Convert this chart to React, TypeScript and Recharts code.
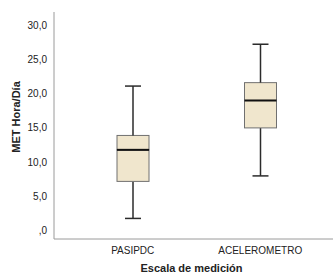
import { ComposedChart, Bar, XAxis, YAxis, Label } from "recharts";

const categories = ["PASIPDC", "ACELEROMETRO"];
const minValues = [1.8, 8.0];
const q1Values = [7.2, 15.0];
const medianValues = [11.8, 19.0];
const q3Values = [13.9, 21.6];
const maxValues = [21.1, 27.2];
const yTicks = [0, 5, 10, 15, 20, 25, 30];

const data = categories.map((name, i) => ({
  name,
  base: minValues[i],
  lowWhisker: q1Values[i] - minValues[i],
  boxLow: medianValues[i] - q1Values[i],
  boxHigh: q3Values[i] - medianValues[i],
  highWhisker: maxValues[i] - q3Values[i],
}));

const BOX_FILL = "#f0e6cd";
const BOX_STROKE = "#707070";
const WHISKER = "#2b2b2b";

const LowWhisker = (props: any) => {
  const { x, y, width, height } = props;
  const cx = x + width / 2;
  return (
    <g>
      <line x1={cx} x2={cx} y1={y} y2={y + height} stroke={WHISKER} strokeWidth={1.5} />
      <line x1={cx - 8} x2={cx + 8} y1={y + height} y2={y + height} stroke={WHISKER} strokeWidth={1.5} />
    </g>
  );
};

const HighWhisker = (props: any) => {
  const { x, y, width, height } = props;
  const cx = x + width / 2;
  return (
    <g>
      <line x1={cx} x2={cx} y1={y} y2={y + height} stroke={WHISKER} strokeWidth={1.5} />
      <line x1={cx - 8} x2={cx + 8} y1={y} y2={y} stroke={WHISKER} strokeWidth={1.5} />
    </g>
  );
};

const BoxPart = (props: any) => {
  const { x, y, width, height } = props;
  return <rect x={x} y={y} width={width} height={height} fill={BOX_FILL} stroke={BOX_STROKE} strokeWidth={1} />;
};

const BoxUpper = (props: any) => {
  const { x, y, width, height } = props;
  return (
    <g>
      <rect x={x} y={y} width={width} height={height} fill={BOX_FILL} stroke={BOX_STROKE} strokeWidth={1} />
      <line x1={x} x2={x + width} y1={y + height} y2={y + height} stroke="#111" strokeWidth={2} />
    </g>
  );
};

const fmt = (v: number) => (v === 0 ? ",0" : v.toFixed(1).replace(".", ","));

export default function App() {
  return (
    <div style={{ position: "absolute", left: 0, top: 0, background: "#fff", fontFamily: "Liberation Sans, Arial, sans-serif" }}>
      <ComposedChart width={334} height={277} data={data} margin={{ top: 12, right: 1, bottom: 8, left: 0 }} barCategoryGap={0}>
        <XAxis
          dataKey="name"
          height={30}
          tickLine={false}
          axisLine={{ stroke: "#9a9a9a" }}
          padding={{ left: 15, right: 9 }}
          tick={{ fill: "#222", fontSize: 10 }}
          interval={0}
        >
          <Label
            content={({ viewBox }: any) => (
              <text x={viewBox.x + viewBox.width / 2 - 2} y={viewBox.y + 33} textAnchor="middle" fontSize={11} fontWeight="bold" fill="#222">
                Escala de medición
              </text>
            )}
          />
        </XAxis>
        <YAxis
          width={54}
          domain={[-1.2, 31.9]}
          ticks={yTicks}
          tickFormatter={fmt}
          tickLine={false}
          axisLine={{ stroke: "#9a9a9a" }}
          tick={{ fill: "#222", fontSize: 10 }}
          tickMargin={1}
        >
          <Label
            content={() => (
              <text x={20} y={117} transform="rotate(-90 20 117)" textAnchor="middle" fontSize={11} fontWeight="bold" fill="#222">
                MET Hora/Día
              </text>
            )}
          />
        </YAxis>
        <Bar dataKey="base" stackId="b" fill="transparent" barSize={32} isAnimationActive={false} />
        <Bar dataKey="lowWhisker" stackId="b" shape={LowWhisker} barSize={32} isAnimationActive={false} />
        <Bar dataKey="boxLow" stackId="b" shape={BoxPart} barSize={32} isAnimationActive={false} />
        <Bar dataKey="boxHigh" stackId="b" shape={BoxUpper} barSize={32} isAnimationActive={false} />
        <Bar dataKey="highWhisker" stackId="b" shape={HighWhisker} barSize={32} isAnimationActive={false} />
      </ComposedChart>
    </div>
  );
}
